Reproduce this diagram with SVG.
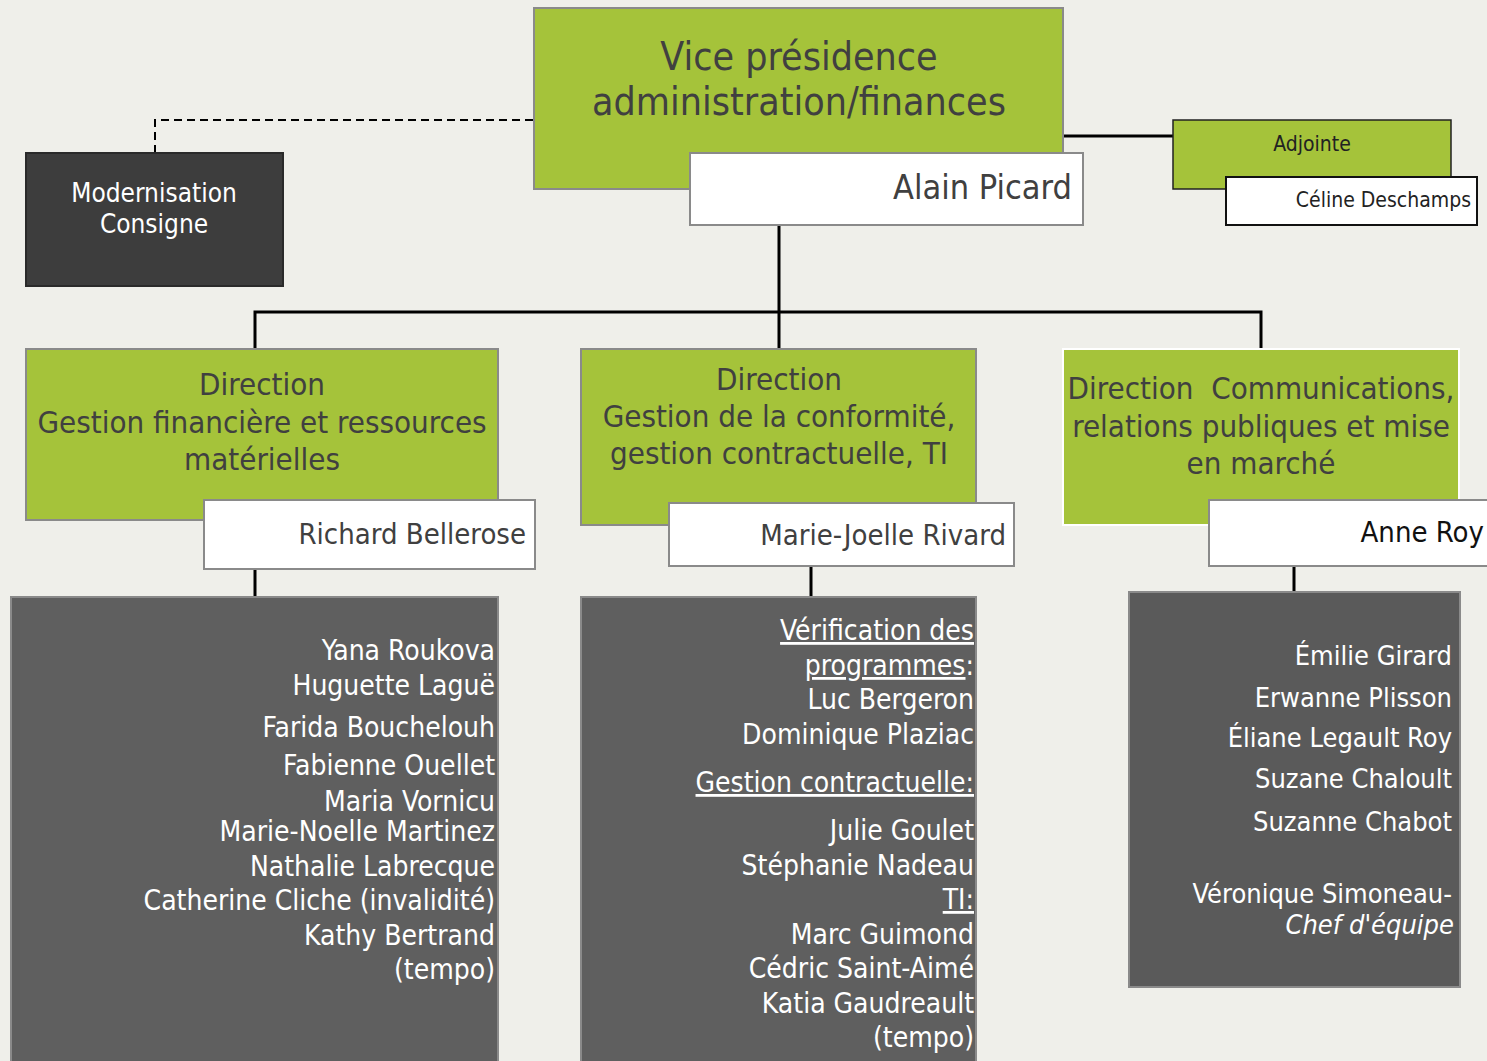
<svg xmlns="http://www.w3.org/2000/svg" width="1487" height="1061" viewBox="0 0 1487 1061">
<style>
text{font-family:"Liberation Sans Narrow","DejaVu Sans Condensed","Liberation Sans",sans-serif}
.green{fill:#a5c33a;stroke:#8a8a8a;stroke-width:2}
.white{fill:#ffffff;stroke:#8a8a8a;stroke-width:2}
.dark{fill:#5f5f5f;stroke:#8a8a8a;stroke-width:2}
.t{fill:#404040}
.w{fill:#ffffff}
.c{text-anchor:middle}
.r{text-anchor:end}
.conn{stroke:#000;stroke-width:3;fill:none}
</style>
<rect width="1487" height="1061" fill="#efefea"/>
<g id="connectors">
<path class="conn" d="M1063 136H1173"/>
<path d="M155 153V120H534" fill="none" stroke="#000" stroke-width="2" stroke-dasharray="8,5"/>
<path class="conn" d="M779 225V349M255 349V312H1261V349"/>
<path class="conn" d="M255 569V597M811 566V597M1294 566V592"/>
</g>
<g id="vp">
<rect class="green" x="534" y="8" width="529" height="181"/>
<text class="t c" x="799" y="70" font-size="39">Vice présidence</text>
<text class="t c" x="799" y="115" font-size="39">administration/finances</text>
</g>
<g id="vp-name">
<rect class="white" x="690" y="153" width="393" height="72"/>
<text class="t r" x="1072" y="199" font-size="34">Alain Picard</text>
</g>
<g id="adjointe">
<rect x="1173" y="120" width="278" height="69" fill="#a5c33a" stroke="#222" stroke-width="1.5"/>
<text class="c" x="1312" y="151" font-size="21" fill="#222">Adjointe</text>
</g>
<g id="adjointe-name">
<rect x="1226" y="177" width="251" height="48" fill="#fff" stroke="#111" stroke-width="2"/>
<text class="r" x="1471" y="207" font-size="21" fill="#222">Céline Deschamps</text>
</g>
<g id="modernisation">
<rect x="26" y="153" width="257" height="133" fill="#3d3d3d" stroke="#2a2a2a" stroke-width="2"/>
<text class="w c" x="154" y="202" font-size="26">Modernisation</text>
<text class="w c" x="154" y="233" font-size="26">Consigne</text>
</g>
<g id="dir1">
<rect class="green" x="26" y="349" width="472" height="171"/>
<text class="t c" x="262" y="395" font-size="31">Direction</text>
<text class="t c" x="262" y="433" font-size="31">Gestion financière et ressources</text>
<text class="t c" x="262" y="470" font-size="31">matérielles</text>
</g>
<g id="dir1-name">
<rect class="white" x="204" y="500" width="331" height="69"/>
<text class="t r" x="526" y="544" font-size="29">Richard Bellerose</text>
</g>
<g id="team1">
<rect class="dark" x="11" y="597" width="487" height="470"/>
<g class="w r" font-size="28">
<text x="495" y="660">Yana Roukova</text>
<text x="495" y="695">Huguette Laguë</text>
<text x="495" y="737">Farida Bouchelouh</text>
<text x="495" y="775">Fabienne Ouellet</text>
<text x="495" y="811">Maria Vornicu</text>
<text x="495" y="841">Marie-Noelle Martinez</text>
<text x="495" y="876">Nathalie Labrecque</text>
<text x="495" y="910">Catherine Cliche (invalidité)</text>
<text x="495" y="945">Kathy Bertrand</text>
<text x="495" y="979">(tempo)</text>
</g>
</g>
<g id="dir2">
<rect class="green" x="581" y="349" width="395" height="176"/>
<text class="t c" x="779" y="390" font-size="31">Direction</text>
<text class="t c" x="779" y="427" font-size="31">Gestion de la conformité,</text>
<text class="t c" x="779" y="464" font-size="31">gestion contractuelle, TI</text>
</g>
<g id="dir2-name">
<rect class="white" x="669" y="503" width="345" height="63"/>
<text class="t r" x="1006" y="545" font-size="29">Marie-Joelle Rivard</text>
</g>
<g id="team2">
<rect class="dark" x="581" y="597" width="395" height="470"/>
<g class="w r" font-size="28">
<text x="974" y="640" text-decoration="underline">Vérification des</text>
<text x="974" y="675"><tspan text-decoration="underline">programmes</tspan>:</text>
<text x="974" y="709">Luc Bergeron</text>
<text x="974" y="744">Dominique Plaziac</text>
<text x="974" y="792" text-decoration="underline">Gestion contractuelle:</text>
<text x="974" y="840">Julie Goulet</text>
<text x="974" y="875">Stéphanie Nadeau</text>
<text x="974" y="909" text-decoration="underline">TI:</text>
<text x="974" y="944">Marc Guimond</text>
<text x="974" y="978">Cédric Saint-Aimé</text>
<text x="974" y="1013">Katia Gaudreault</text>
<text x="974" y="1047">(tempo)</text>
</g>
</g>
<g id="dir3">
<rect x="1063" y="349" width="396" height="176" fill="#a5c33a" stroke="#ffffff" stroke-width="2"/>
<text class="t c" x="1261" y="399" font-size="31" xml:space="preserve">Direction  Communications,</text>
<text class="t c" x="1261" y="437" font-size="31">relations publiques et mise</text>
<text class="t c" x="1261" y="474" font-size="31">en marché</text>
</g>
<g id="dir3-name">
<rect class="white" x="1209" y="500" width="290" height="66"/>
<text class="r" x="1484" y="542" font-size="29" fill="#111">Anne Roy</text>
</g>
<g id="team3">
<rect x="1129" y="592" width="331" height="395" fill="#5a5a5a" stroke="#8a8a8a" stroke-width="2"/>
<g class="w r" font-size="27">
<text x="1452" y="665">Émilie Girard</text>
<text x="1452" y="707">Erwanne Plisson</text>
<text x="1452" y="747">Éliane Legault Roy</text>
<text x="1452" y="788">Suzane Chaloult</text>
<text x="1452" y="831">Suzanne Chabot</text>
<text x="1452" y="903">Véronique Simoneau-</text>
<text x="1454" y="934" font-style="italic">Chef d'équipe</text>
</g>
</g>
</svg>
